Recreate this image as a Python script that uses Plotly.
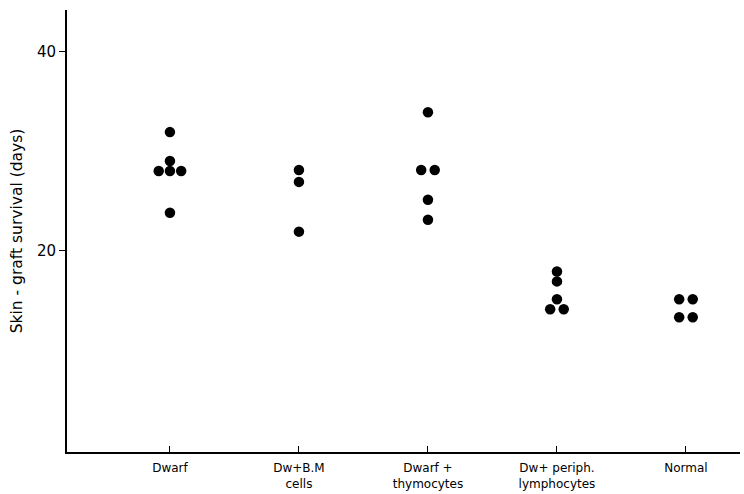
import plotly.graph_objects as go
from collections import Counter

# Groups along the x axis
categories = ["Dwarf", "Dw+B.M<br>cells", "Dwarf +<br>thymocytes",
              "Dw+ periph.<br>lymphocytes", "Normal"]

# Skin-graft survival (days) for each animal in each group
dwarf = [31.9, 29.0, 28.0, 28.0, 28.0, 23.8]
dw_bm = [28.1, 26.9, 21.9]
dwarf_thymo = [33.9, 28.1, 28.1, 25.1, 23.1]
dw_periph = [17.9, 16.9, 15.1, 14.1, 14.1]
normal = [15.1, 15.1, 13.3, 13.3]

groups = [dwarf, dw_bm, dwarf_thymo, dw_periph, normal]

y_ticks = [20, 40]

# Tied values are spread sideways so each dot stays visible
xs, ys = [], []
for i, vals in enumerate(groups):
    counts = Counter(vals)
    seen = Counter()
    for v in vals:
        n = counts[v]
        step = 0.087 if n >= 3 else 0.105
        k = seen[v]
        seen[v] += 1
        xs.append(i + (k - (n - 1) / 2) * step)
        ys.append(v)

fig = go.Figure(go.Scatter(
    x=xs, y=ys, mode="markers",
    marker=dict(color="black", size=10.5, line=dict(width=0)),
    hoverinfo="skip",
))

font = "DejaVu Sans, Verdana, sans-serif"
fig.update_layout(
    width=744, height=494,
    margin=dict(l=67, r=4, t=10, b=42),
    paper_bgcolor="white", plot_bgcolor="white",
    showlegend=False,
    font=dict(family=font, color="black", size=12),
    xaxis=dict(
        range=[-0.798, 4.419],
        tickmode="array", tickvals=list(range(len(categories))),
        ticktext=categories,
        ticks="inside", ticklen=6, tickwidth=1.2, tickcolor="black",
        showline=True, linecolor="black", linewidth=2,
        showgrid=False, zeroline=False,
        tickfont=dict(size=12),
        ticklabelstandoff=4,
    ),
    yaxis=dict(
        range=[-0.24, 44.17],
        tickmode="array", tickvals=y_ticks,
        ticks="outside", ticklen=6, tickwidth=1.2, tickcolor="black",
        showline=True, linecolor="black", linewidth=2,
        showgrid=False, zeroline=False,
        tickfont=dict(size=15),
        title=dict(text="Skin - graft survival (days)",
                   font=dict(size=15.5), standoff=10),
    ),
)

fig.write_html("out.html")
